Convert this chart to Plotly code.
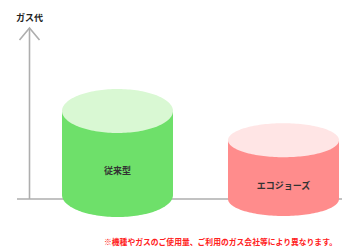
import numpy as np
import plotly.graph_objects as go

# ---- data ----
categories = ["従来型", "エコジョーズ"]
gas_cost = [100, 70]          # relative gas cost
axis_title = "ガス代"
footnote = "※機種やガスのご使用量、ご利用のガス会社等により異なります。"

# ---- style / layout constants (pixel space) ----
W, H = 342, 249
px_per_unit = 0.84
centers_x = [117.5, 283.5]
base_y = [195, 199]
radius_x = [55.5, 55.5]
radius_y = [22, 17]
body_colors = ["#6EE06A", "#FF8C8C"]
top_colors = ["#D9F8D3", "#FFE5E5"]
axis_color = "#AEAEAE"
axis_x = 29.5
baseline_y = 199
arrow_tip_y = 28

fig = go.Figure()

# axes lines (behind cylinders)
fig.add_trace(go.Scatter(x=[17, W], y=[baseline_y, baseline_y], mode="lines",
                         line=dict(color=axis_color, width=1.6), hoverinfo="skip"))
fig.add_trace(go.Scatter(x=[axis_x, axis_x], y=[baseline_y, arrow_tip_y], mode="lines",
                         line=dict(color=axis_color, width=1.6), hoverinfo="skip"))
fig.add_trace(go.Scatter(x=[axis_x - 10, axis_x, axis_x + 10],
                         y=[arrow_tip_y + 12, arrow_tip_y, arrow_tip_y + 12], mode="lines",
                         line=dict(color=axis_color, width=1.6), hoverinfo="skip"))

t = np.linspace(0, np.pi, 80)
tt = np.linspace(0, 2 * np.pi, 160)
label_y = [172, 187]
for i, (cat, v) in enumerate(zip(categories, gas_cost)):
    cx, by, rx, ry = centers_x[i], base_y[i], radius_x[i], radius_y[i]
    ty = by - v * px_per_unit
    bx = np.concatenate([[cx - rx], cx - rx * np.cos(t), [cx + rx]])
    byy = np.concatenate([[ty], by + ry * np.sin(t), [ty]])
    fig.add_trace(go.Scatter(x=bx, y=byy, fill="toself", fillcolor=body_colors[i],
                             mode="none", hoverinfo="skip"))
    fig.add_trace(go.Scatter(x=cx + rx * np.cos(tt), y=ty + ry * np.sin(tt), fill="toself",
                             fillcolor=top_colors[i], mode="none", hoverinfo="skip"))
    fig.add_trace(go.Scatter(x=[cx], y=[label_y[i]], mode="text", text=["<b>" + cat + "</b>"],
                             textfont=dict(family="Noto Sans CJK JP", size=9, color="#333"),
                             hoverinfo="skip"))

fig.add_annotation(x=axis_x, y=17, text="<b>" + axis_title + "</b>", showarrow=False,
                   font=dict(family="Noto Sans CJK JP", size=9, color="#222"),
                   xanchor="center", yanchor="middle")
fig.add_annotation(x=339, y=241, text="<b>" + footnote + "</b>", showarrow=False,
                   font=dict(family="Noto Sans CJK JP", size=7.8, color="#FF2020"),
                   xanchor="right", yanchor="middle")

fig.update_layout(
    width=W, height=H, margin=dict(l=0, r=0, t=0, b=0),
    paper_bgcolor="white", plot_bgcolor="white", showlegend=False,
    xaxis=dict(range=[0, W], visible=False, fixedrange=True),
    yaxis=dict(range=[H, 0], visible=False, fixedrange=True),
)
fig.write_html("out.html", config=dict(displayModeBar=False),
               post_script="document.body.style.margin='0';document.body.style.overflow='hidden';")
